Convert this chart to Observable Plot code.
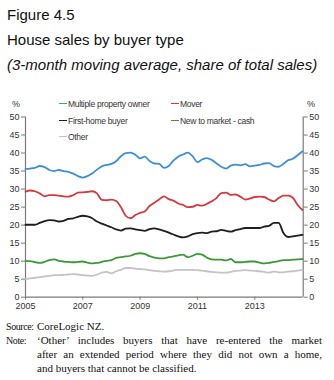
<!DOCTYPE html>
<html>
<head>
<meta charset="utf-8">
<script src="https://cdn.jsdelivr.net/npm/d3@7"></script>
<script src="https://cdn.jsdelivr.net/npm/@observablehq/plot@0.6"></script>
<style>
  body { margin:0; background:#fff; }
  #page { position:relative; width:334px; height:380px; overflow:hidden; font-family:"Liberation Sans", Arial, sans-serif; color:#111; }
  .t { position:absolute; left:7px; font-size:15px; line-height:15px; white-space:nowrap; }
  #chart { position:absolute; left:0; top:80px; }
  .pct { position:absolute; top:99px; font-size:9px; color:#333; }
  .leg { position:absolute; font-size:8.5px; letter-spacing:-0.3px; color:#333; white-space:nowrap; line-height:10px; }
  .leg i { display:inline-block; width:8px; height:0; border-top:1.6px solid; vertical-align:middle; margin-right:1px; position:relative; top:-1px; }
  .nl { position:absolute; left:6px; font-family:"Liberation Serif", "Times New Roman", serif; font-size:10px; letter-spacing:-0.4px; line-height:13.5px; color:#111; white-space:nowrap; }
  .nt { position:absolute; left:37px; width:285px; font-family:"Liberation Serif", "Times New Roman", serif; font-size:11px; line-height:13.5px; color:#111; white-space:nowrap; }
  .nt.j { text-align:justify; text-align-last:justify; }
</style>
</head>
<body>
<div id="page">
  <div class="t" style="top:7px">Figure 4.5</div>
  <div class="t" style="top:31.5px">House sales by buyer type</div>
  <div class="t" style="top:56.5px;font-style:italic">(3-month moving average, share of total sales)</div>
  <div id="chart"></div>
  <div class="pct" style="left:12px">%</div>
  <div class="pct" style="left:307px">%</div>
  <div id="legend"></div>
  <div class="nl" style="top:320px">Source:</div>
  <div class="nt" style="top:320px">CoreLogic NZ.</div>
  <div class="nl" style="top:334px">Note:</div>
  <div class="nt j" style="top:334px">‘Other’ includes buyers that have re-entered the market</div>
  <div class="nt j" style="top:348px">after an extended period where they did not own a home,</div>
  <div class="nt" style="top:362px">and buyers that cannot be classified.</div>
</div>
<script>
// ---- data ----
const seriesNames = ["Multiple property owner", "Mover", "First-home buyer", "New to market - cash", "Other"];
const seriesColors = ["#3f8fd6", "#d6383f", "#1e1e1e", "#3a9a3a", "#c4c4c4"];

const dates = [
  "2005-01","2005-03","2005-05","2005-07","2005-09","2005-11",
  "2006-01","2006-03","2006-05","2006-07","2006-09","2006-11",
  "2007-01","2007-03","2007-05","2007-07","2007-09","2007-11",
  "2008-01","2008-03","2008-05","2008-07","2008-09","2008-11",
  "2009-01","2009-03","2009-05","2009-07","2009-09","2009-11",
  "2010-01","2010-03","2010-05","2010-07","2010-09","2010-11",
  "2011-01","2011-03","2011-05","2011-07","2011-09","2011-11",
  "2012-01","2012-03","2012-05","2012-07","2012-09","2012-11",
  "2013-01","2013-03","2013-05","2013-07","2013-09","2013-11",
  "2014-01","2014-03","2014-05","2014-07","2014-09"
];

const multipleOwner = [
  35.6,35.7,35.9,36.4,36.1,35.3, 35.0,35.3,35.0,34.8,34.3,33.6,
  33.2,33.6,34.3,35.4,36.3,36.7, 37.0,37.7,39.1,40.0,40.1,39.5,
  38.5,39.0,37.8,37.1,37.0,35.9, 36.4,37.9,39.0,39.6,40.1,39.1,
  37.5,38.2,38.6,38.1,37.1,36.2, 35.7,36.5,36.8,36.6,36.9,36.3,
  36.5,36.7,37.1,37.2,36.4,36.2, 37.0,38.0,38.4,39.4,40.5
];
const mover = [
  29.3,29.6,29.4,28.8,28.0,28.3, 28.3,28.2,28.0,27.9,28.3,29.0,
  29.1,29.2,29.4,28.8,27.0,26.9, 27.1,26.7,25.0,22.6,21.9,22.8,
  23.4,23.8,25.3,26.2,27.1,28.0, 27.2,26.8,26.0,25.6,25.0,25.1,
  25.6,25.4,25.9,26.6,27.5,28.9, 29.0,28.4,28.5,27.9,27.1,27.4,
  27.8,27.9,27.8,27.1,26.6,27.5, 28.2,28.2,27.6,25.6,24.2
];
const firstHome = [
  20.1,20.1,20.1,20.6,21.1,21.4, 21.3,21.0,21.2,21.7,21.9,22.3,
  22.6,22.4,21.9,21.0,20.4,19.9, 19.4,18.8,18.5,19.0,19.1,18.8,
  18.6,18.4,18.9,19.1,18.8,18.4, 17.9,17.4,16.9,16.6,16.9,17.5,
  17.8,17.9,17.8,18.2,18.3,18.7, 18.4,18.2,18.6,18.9,19.2,19.2,
  19.2,19.2,19.6,19.8,20.6,20.6, 17.8,16.7,16.9,17.1,17.3
];
const newCash = [
  10.1,10.0,9.7,9.5,9.8,10.3, 10.5,10.1,9.9,9.8,9.7,9.8,
  9.9,9.6,9.4,9.5,9.8,10.1, 10.3,10.9,11.1,11.3,11.5,12.0,
  12.2,12.0,11.4,11.0,10.8,10.8, 11.1,11.3,11.6,11.8,11.1,11.5,
  12.0,11.8,11.0,10.5,10.4,10.4, 10.2,10.6,9.7,9.7,9.8,9.9,
  9.9,9.6,9.4,9.5,9.8,10.0, 10.3,10.3,10.4,10.5,10.6
];
const other = [
  5.0,5.2,5.4,5.6,5.8,5.9, 6.1,6.1,6.2,6.3,6.4,6.3,
  6.1,6.0,5.9,6.3,6.8,7.0, 6.6,7.2,7.6,8.1,8.1,7.9,
  7.8,7.7,7.5,7.3,7.2,7.1, 7.2,7.4,7.6,7.6,7.6,7.6,
  7.5,7.4,7.2,7.0,6.9,6.8, 6.8,7.0,7.3,7.4,7.5,7.4,
  7.3,7.2,7.0,6.8,7.1,6.9, 6.9,7.1,7.2,7.4,7.6
];

const yTicks = [0,5,10,15,20,25,30,35,40,45,50];
const xTickLabels = ["2005","2007","2009","2011","2013"];
const xDomain = ["2005-01-01","2014-09-10"];

// ---- build table ----
const seriesValues = [multipleOwner, mover, firstHome, newCash, other];
const rows = [];
seriesNames.forEach((name, i) => {
  seriesValues[i].forEach((v, j) => {
    rows.push({series: name, date: new Date(dates[j] + "-01T00:00:00Z"), value: v});
  });
});
const xd = xDomain.map(s => new Date(s + "T00:00:00Z"));
const xt = xTickLabels.map(s => new Date(s + "-01-01T00:00:00Z"));

const axisColor = "#7a7a7a";
const chart = Plot.plot({
  width: 334,
  height: 240,
  marginTop: 36.5,
  marginBottom: 23.3,
  marginLeft: 25,
  marginRight: 31.3,
  style: {fontFamily: "'Liberation Sans', Arial, sans-serif", fontSize: "9px", color: "#333", background: "#fff"},
  x: {type: "utc", domain: xd},
  y: {domain: [0, 50]},
  color: {domain: seriesNames, range: seriesColors},
  marks: [
    Plot.ruleY([0], {stroke: axisColor, strokeWidth: 1.2}),
    Plot.ruleX([xd[0], xd[1]], {stroke: axisColor, strokeWidth: 1.2}),
    Plot.axisY(yTicks, {anchor: "left", tickSize: 4, tickPadding: 2, label: null, stroke: axisColor, fill: "#333"}),
    Plot.axisY(yTicks, {anchor: "right", tickSize: 4, tickPadding: 2, label: null, stroke: axisColor, fill: "#333"}),
    Plot.axisX(xt, {anchor: "bottom", tickSize: 3, tickPadding: 2, label: null, tickFormat: d => String(d.getUTCFullYear()), stroke: axisColor, fill: "#333"}),
    Plot.line(rows, {x: "date", y: "value", z: "series", stroke: "series", strokeWidth: 1.8, curve: "monotone-x"})
  ]
});
document.getElementById("chart").appendChild(chart);

// ---- legend ----
const legendPos = [
  {left: 59, top: 99}, {left: 171, top: 99},
  {left: 59, top: 116}, {left: 171, top: 116},
  {left: 59, top: 132}
];
const legend = document.getElementById("legend");
seriesNames.forEach((name, i) => {
  const d = document.createElement("div");
  d.className = "leg";
  d.style.left = legendPos[i].left + "px";
  d.style.top = legendPos[i].top + "px";
  d.innerHTML = `<i style="border-color:${seriesColors[i]}"></i>`;
  d.appendChild(document.createTextNode(name));
  legend.appendChild(d);
});
</script>
</body>
</html>
